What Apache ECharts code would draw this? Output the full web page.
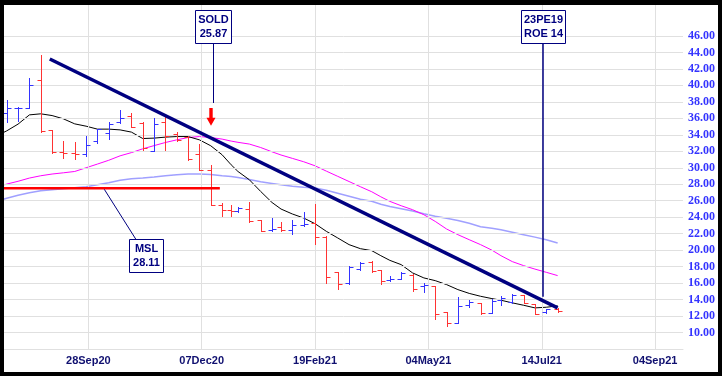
<!DOCTYPE html>
<html><head><meta charset="utf-8">
<script src="https://cdn.jsdelivr.net/npm/echarts@6/dist/echarts.min.js"></script>
<style>html,body{margin:0;padding:0;background:#fff}#c{width:722px;height:376px}</style>
</head><body><div id="c"></div><script>
// ---- data ----
const weekDates = ['2020-07-31','2020-08-07','2020-08-14','2020-08-21','2020-08-28','2020-09-04','2020-09-11','2020-09-18','2020-09-25','2020-10-02','2020-10-09','2020-10-16','2020-10-23','2020-10-30','2020-11-06','2020-11-13','2020-11-20','2020-11-27','2020-12-04','2020-12-11','2020-12-18','2020-12-24','2020-12-31','2021-01-08','2021-01-15','2021-01-22','2021-01-29','2021-02-05','2021-02-12','2021-02-19','2021-02-26','2021-03-05','2021-03-12','2021-03-19','2021-03-26','2021-04-01','2021-04-09','2021-04-16','2021-04-23','2021-04-30','2021-05-07','2021-05-14','2021-05-21','2021-05-28','2021-06-04','2021-06-11','2021-06-18','2021-06-25','2021-07-02','2021-07-09','2021-07-16','2021-07-23'];
const opens  = [null,36.6,37.3,37.3,40.6,34.6,31.95,31.85,31.7,33.2,34.2,35.5,36.3,35.4,32.0,35.5,34.1,33.7,31.7,29.7,25.5,24.9,24.7,25.05,23.6,22.45,22.8,22.4,23.0,23.3,21.6,17.3,16.0,17.7,18.6,17.6,16.4,16.5,17.0,15.7,15.7,12.5,11.2,13.35,13.6,12.4,13.9,13.7,14.6,13.5,12.45,12.8];
const highs  = [null,38.2,37.4,40.9,43.7,34.6,33.2,33.1,33.8,34.7,35.5,37.0,36.7,35.5,36.0,36.4,34.3,33.8,32.9,30.3,25.7,25.5,25.2,25.8,23.7,23.9,23.4,23.7,24.6,25.6,21.7,17.4,18.1,18.55,18.65,17.6,16.9,17.4,17.15,16.0,15.7,12.5,14.3,13.9,13.6,14.1,14.4,14.7,14.6,13.5,12.9,12.95];
const lows   = [null,35.6,35.7,37.3,34.3,31.8,31.2,31.05,31.45,33.0,33.5,35.4,34.9,32.2,32.0,32.1,33.2,31.0,29.7,25.5,24.2,24.1,24.6,23.37,22.3,22.3,22.3,21.9,22.9,20.8,16.0,15.3,15.9,17.6,17.4,15.9,16.3,16.5,15.1,14.9,11.6,10.85,11.2,13.1,12.3,12.4,13.4,13.6,13.6,12.25,12.4,12.45];
const closes = [null,37.3,37.3,40.1,34.5,31.9,31.8,31.7,32.75,34.65,35.3,36.0,34.9,32.4,35.3,33.9,33.4,31.1,29.7,25.5,24.9,24.75,25.15,23.5,22.3,22.6,22.5,23.0,23.2,21.6,16.7,15.85,17.96,18.5,17.5,16.3,16.5,17.2,15.3,15.75,12.3,11.1,13.2,13.65,12.4,13.8,14.2,14.6,13.6,12.3,12.8,12.65];
const maShort = [33.8,34.48,35.3,36.42,36.55,36.34,35.94,35.33,35.05,34.69,34.69,34.6,34.33,33.55,33.6,33.72,33.79,33.79,33.39,32.67,31.58,30.36,29.55,28.55,27.13,25.79,24.99,24.39,23.9,23.21,22.28,21.48,20.67,20.18,19.94,19.33,18.76,18.24,17.24,16.63,16.3,15.82,15.21,14.75,14.4,14.12,13.92,13.6,13.31,12.99,13.07,13.24];
const maMid = [27.64,28.02,28.36,28.75,29.03,29.24,29.39,29.55,30.0,30.45,30.91,31.45,31.84,32.3,32.69,33.07,33.39,33.67,33.79,33.67,33.48,33.24,33.09,32.88,32.46,31.94,31.55,31.14,30.73,30.24,29.59,28.96,28.33,27.7,27.09,26.48,25.92,25.39,24.91,24.3,23.49,22.57,21.88,21.27,20.67,20.0,19.33,18.61,18.12,17.7,17.31,16.91];
const maLong = [25.88,26.3,26.67,26.97,27.21,27.33,27.45,27.58,27.7,27.94,28.18,28.48,28.67,28.75,28.87,29.03,29.15,29.25,29.25,29.18,29.03,28.93,28.81,28.57,28.3,28.1,27.94,27.76,27.64,27.54,27.27,26.91,26.55,26.18,25.94,25.58,25.31,25.03,24.75,24.42,24.12,23.88,23.6,23.27,22.85,22.67,22.48,22.18,21.88,21.58,21.27,20.87];
const trendLine = [['2020-09-03',43.2],['2021-07-23',13.0]];
const mslLine = [['2020-07-31',27.5],['2020-12-17',27.5]];
const yTicks = [10,12,14,16,18,20,22,24,26,28,30,32,34,36,38,40,42,44,46];
const xTickLabels = ['28Sep20','07Dec20','19Feb21','04May21','14Jul21','04Sep21'];
const xTickStep = 50; // trading days between labelled gridlines
const originDate = '2020-09-28';
const holidays = ['2020-12-25','2020-12-28','2021-01-01','2021-01-26','2021-04-02','2021-04-05','2021-06-14'];

// trading-day index relative to origin
function tradingIndex(s){
  const a = new Date(originDate+'T00:00:00Z'), b = new Date(s+'T00:00:00Z');
  let n = 0; const step = b >= a ? 1 : -1; const d = new Date(a);
  while (d.getTime() !== b.getTime()){
    d.setUTCDate(d.getUTCDate()+step);
    const wd = d.getUTCDay(); const iso = d.toISOString().slice(0,10);
    if (wd !== 0 && wd !== 6 && holidays.indexOf(iso) < 0) n += step;
  }
  return n;
}
const xs = weekDates.map(tradingIndex);
const ohlc = [];
xs.forEach((x,i)=>{ if(opens[i]!=null) ohlc.push([x,opens[i],highs[i],lows[i],closes[i]]); });
const xTickVals = xTickLabels.map((_,i)=>i*xTickStep);

const NAVY = '#000080';
const FONT = "'Liberation Sans', Arial, sans-serif";
const chart = echarts.init(document.getElementById('c'), null, {renderer:'canvas'});

function box(x,y,w,h,l1,l2){
  return [
    {type:'rect', z:100, shape:{x:x+0.5,y:y+0.5,width:w,height:h}, style:{fill:'#fff',stroke:NAVY,lineWidth:1}},
    {type:'text', z:101, style:{x:x+w/2+0.5,y:y+9.5,text:l1,fill:NAVY,font:'bold 11px '+FONT,align:'center',verticalAlign:'middle'}},
    {type:'text', z:101, style:{x:x+w/2+0.5,y:y+23.5,text:l2,fill:NAVY,font:'bold 11px '+FONT,align:'center',verticalAlign:'middle'}}
  ];
}

chart.setOption({
  animation:false,
  backgroundColor:'#fff',
  grid:{left:4,right:39,top:5,bottom:27,containLabel:false},
  xAxis:{type:'value',min:-37.2,max:262.3,
    axisLine:{show:true,lineStyle:{color:'#e0e0e0',width:1}},
    axisTick:{show:false},splitLine:{show:false},
    axisLabel:{customValues:xTickVals,margin:6,color:'#101070',fontWeight:'bold',fontSize:11,fontFamily:FONT,
      formatter:v=>xTickLabels[Math.round(v/xTickStep)]||''}},
  yAxis:{type:'value',position:'right',min:8,max:49.76,
    axisLine:{show:true,lineStyle:{color:'#e0e0e0',width:1}},
    axisTick:{show:false},splitLine:{show:false},
    axisLabel:{customValues:yTicks,margin:5,color:'#3333ff',fontWeight:'bold',fontSize:12,fontFamily:"'Liberation Serif','Times New Roman',serif",
      formatter:v=>v.toFixed(2)}},
  series:[
    {type:'line',data:[],z:0,silent:true,
      markLine:{silent:true,symbol:'none',animation:false,label:{show:false},
        lineStyle:{color:'#e0e0e0',width:1,type:'solid'},
        emphasis:{disabled:true},
        data:yTicks.map(v=>({yAxis:v})).concat(xTickVals.map(v=>({xAxis:v})))}},
    {type:'line',data:xs.map((x,i)=>[x,maLong[i]]),symbol:'none',z:2,lineStyle:{color:'#a0a0ff',width:1.5},silent:true},
    {type:'line',data:xs.map((x,i)=>[x,maMid[i]]),symbol:'none',z:3,lineStyle:{color:'#ff00ff',width:1},silent:true},
    {type:'line',data:xs.map((x,i)=>[x,maShort[i]]),symbol:'none',z:4,lineStyle:{color:'#000000',width:1},silent:true},
    {type:'custom',z:5,silent:true,data:ohlc,encode:{x:0,y:[1,2,3,4]},
      renderItem:function(params,api){
        const x=api.value(0),o=api.value(1),h=api.value(2),l=api.value(3),c=api.value(4);
        const pH=api.coord([x,h]),pL=api.coord([x,l]),pO=api.coord([x,o]),pC=api.coord([x,c]);
        const cx=Math.round(pH[0])+0.5;
        const yo=Math.round(pO[1])+0.5, yc=Math.round(pC[1])+0.5;
        const st={stroke:c>=o?'#3333ff':'#ff3333',lineWidth:1};
        return {type:'group',children:[
          {type:'line',shape:{x1:cx,y1:Math.round(pH[1]),x2:cx,y2:Math.round(pL[1])+1},style:st},
          {type:'line',shape:{x1:cx-4,y1:yo,x2:cx,y2:yo},style:st},
          {type:'line',shape:{x1:cx,y1:yc,x2:cx+4,y2:yc},style:st}
        ]};
      }},
    {type:'line',data:mslLine.map(p=>[tradingIndex(p[0]),p[1]]),symbol:'none',z:6,lineStyle:{color:'#ff0000',width:2.5},silent:true},
    {type:'line',data:trendLine.map(p=>[tradingIndex(p[0]),p[1]]),symbol:'none',z:7,lineStyle:{color:NAVY,width:3.5},silent:true}
  ],
  graphic:[
    {type:'line',z:90,shape:{x1:213.5,y1:43.5,x2:213.5,y2:103},style:{stroke:NAVY,lineWidth:1}},
    {type:'polygon',z:90,shape:{points:[[209.3,108],[212.7,108],[212.7,117.7],[215.5,117.7],[211,125.7],[206.5,117.7],[209.3,117.7]]},style:{fill:'#ff0000'}},
    {type:'line',z:90,shape:{x1:543,y1:43.5,x2:543,y2:296.7},style:{stroke:NAVY,lineWidth:1.5}},
    {type:'line',z:90,shape:{x1:104.3,y1:189.3,x2:136,y2:239.5},style:{stroke:NAVY,lineWidth:1}}
  ].concat(
    box(195,10,36,33,'SOLD','25.87'),
    box(521,10,44,33,'23PE19','ROE 14'),
    box(129,239,34,33,'MSL','28.11'),
    [
    {type:'rect',z:200,shape:{x:0,y:0,width:722,height:5},style:{fill:'#000'}},
    {type:'rect',z:200,shape:{x:0,y:0,width:4,height:376},style:{fill:'#000'}},
    {type:'rect',z:200,shape:{x:718,y:0,width:4,height:376},style:{fill:'#000'}},
    {type:'rect',z:200,shape:{x:0,y:372,width:722,height:4},style:{fill:'#000'}}
    ])
});
</script></body></html>
